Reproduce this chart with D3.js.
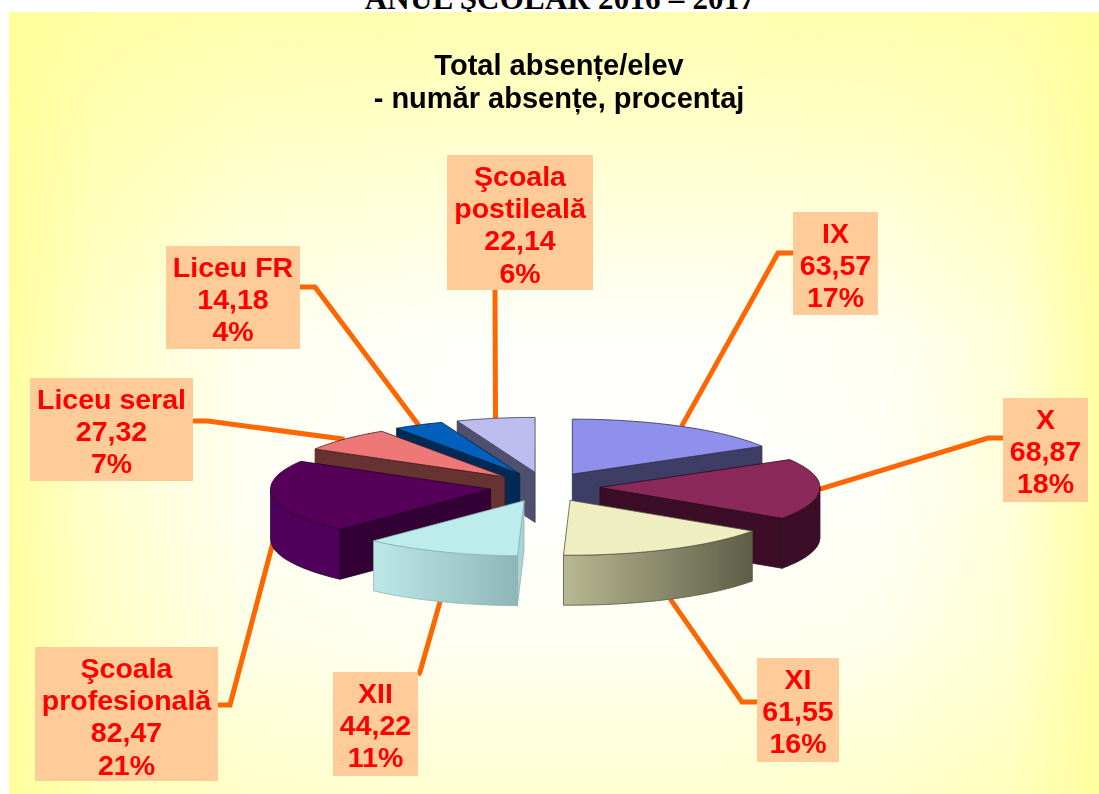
<!DOCTYPE html>
<html><head><meta charset="utf-8">
<script src="https://cdn.jsdelivr.net/npm/d3@7"></script>
<style>html,body{margin:0;padding:0;background:#fff;overflow:hidden}svg{display:block}</style>
</head><body><svg id="c" width="1099" height="794"></svg>
<script>
// ---- data ----
const categories = ["IX","X","XI","XII","Şcoala profesională","Liceu seral","Liceu FR","Şcoala postileală"];
const values     = [63.57,68.87,61.55,44.22,82.47,27.32,14.18,22.14];
const valueTexts = ["63,57","68,87","61,55","44,22","82,47","27,32","14,18","22,14"];
const percents   = ["17%","18%","16%","11%","21%","7%","4%","6%"];
const labelLines = [["IX"],["X"],["XI"],["XII"],["Şcoala","profesională"],["Liceu seral"],["Liceu FR"],["Şcoala","postileală"]];
const titleLines = ["Total absențe/elev","- număr absențe, procentaj"];
const headerText = "ANUL ŞCOLAR 2016 – 2017";
// ---- styles & layout ----
const topColors   = ["#8f8fec","#8b2c5a","#eeeec0","#bcecec","#56005a","#ee7777","#0060bb","#bcbcee"];
const radialColors= ["#3c3c66","#3a1026","#62624c","#a8d4d4","#320035","#663030","#002a55","#50506e"];
const wallColors  = ["#3c3c66","#3a1026","url(#gXI)","url(#gXII)","#50005a","#663030","#002a55","#50506e"];
const edgeColors  = ["#30304f","#2a0a1c","#55553f","#8fb5b5","#25002a","#4a2020","#001f40","#3c3c55"];
const drawOrder   = [0,7,6,5,4,1,2,3];
const boxes = [[793,212,85,103],[1003,398,85,104],[757,658,82,104],[333,672,85,104],[35,647,183,134],[30,378,163,103],[166,246,134,103],[447,155,146,135]];
const elbows = [[[793,253],[778,253]],[[1003,438],[988,438]],[[757,702],[742,702]],[[418,675],[420,672]],[[218,705],[230,705]],[[193,421],[208,421]],[[300,287],[315,287]],[[495,290],[495,291]]];
const leaderDrop = [0,0,50,50,46,0,0,0];
const cx=545, cy=487, rx=220, ry=55, depth=50, explodeX=.25, explodeY=.27;

const svg = d3.select("#c");
const defs = svg.append("defs");
const grad=(id,vertical,stops)=>{
  const g=defs.append("linearGradient").attr("id",id).attr("gradientUnits","userSpaceOnUse");
  if(vertical) g.attr("x1",0).attr("x2",0).attr("y1",12).attr("y2",794); else g.attr("x1",9).attr("x2",1099).attr("y1",0).attr("y2",0);
  stops.forEach(s=>g.append("stop").attr("offset",s[0]).attr("stop-color","#ffff99").attr("stop-opacity",s[1]));
};
grad("bgH",false,[[0,.93],[.08,.5],[.22,.12],[.4,0],[.65,0],[.8,.08],[.92,.35],[1,.9]]);
grad("bgV",true,[[0,.77],[.14,.54],[.42,.04],[.62,0],[.8,.12],[1,.46]]);
const lin=(id,x1,x2,c1,c2)=>{const g=defs.append("linearGradient").attr("id",id).attr("gradientUnits","userSpaceOnUse").attr("x1",x1).attr("x2",x2).attr("y1",0).attr("y2",0);
  g.append("stop").attr("offset",0).attr("stop-color",c1);g.append("stop").attr("offset",1).attr("stop-color",c2);};
lin("gXI",563,752,"#b8b892","#5e5e48");
lin("gXII",373,518,"#bde8e8","#8fb6b6");
const f=defs.append("filter").attr("id","soft");f.append("feGaussianBlur").attr("stdDeviation",.5);

svg.append("text").attr("x",560).attr("y",9).attr("text-anchor","middle")
  .attr("font-family","'Liberation Serif',serif").attr("font-weight","bold").attr("font-size",31).attr("letter-spacing",.2).attr("fill","#000").text(headerText);
const panel=(fill)=>svg.append("rect").attr("x",9).attr("y",12).attr("width",1090).attr("height",782).attr("fill",fill);
panel("#ffffff");panel("url(#bgH)");panel("url(#bgV)");
const titleG=svg.append("g").attr("filter","url(#soft)");
titleLines.forEach((t,i)=>titleG.append("text").attr("x",559).attr("y",[75,108][i]).attr("text-anchor","middle")
  .attr("font-family","'Liberation Sans',Arial,sans-serif").attr("font-weight","bold").attr("font-size",29).attr("fill","#000").text(t));

// scales
const X=d3.scaleLinear().domain([-1,1]).range([cx-rx,cx+rx]);
const Y=d3.scaleLinear().domain([-1,1]).range([cy-ry,cy+ry]);
const pieData=d3.pie().sort(null).value(d=>d)(values);
const apexOf=d=>{const m=(d.startAngle+d.endAngle)/2;return [Math.sin(m)*explodeX,-Math.cos(m)*explodeY];};
const pt=(d,a,r=1)=>{const ap=apexOf(d);return [X(ap[0]+r*Math.sin(a)),Y(ap[1]-r*Math.cos(a))];};
const down=p=>[p[0],p[1]+depth];
const line=d3.line();
const arcPts=(d,a0,a1)=>{const n=Math.max(2,Math.ceil((a1-a0)/0.02));return d3.range(n+1).map(i=>pt(d,a0+(a1-a0)*i/n));};

// leaders
const leaders=svg.append("g").attr("filter","url(#soft)");
pieData.forEach((d,i)=>{
  const m=(d.startAngle+d.endAngle)/2,p=pt(d,m);
  leaders.append("path").attr("d",line([...elbows[i],[p[0],p[1]+leaderDrop[i]]]))
    .attr("fill","none").attr("stroke","#ff6600").attr("stroke-width",5);
});
// pie
const pieG=svg.append("g").attr("filter","url(#soft)");
drawOrder.forEach(i=>{
  const d=pieData[i],g=pieG.append("g"),a0=d.startAngle,a1=d.endAngle,apex=pt(d,0,0);
  const add=(pts,fill)=>g.append("path").attr("d",line(pts)+"Z").attr("fill",fill).attr("stroke",edgeColors[i]).attr("stroke-width",.8).attr("stroke-linejoin","round");
  if(Math.sin(a0)<-1e-6){const p=pt(d,a0);add([apex,p,down(p),down(apex)],radialColors[i]);}
  if(Math.sin(a1)>1e-6){const p=pt(d,a1);add([apex,p,down(p),down(apex)],radialColors[i]);}
  const w0=Math.max(a0,Math.PI/2),w1=Math.min(a1,Math.PI*1.5);
  if(w1>w0){const top=arcPts(d,w0,w1);add([...top,...top.slice().reverse().map(down)],wallColors[i]);}
  add([apex,...arcPts(d,a0,a1)],topColors[i]);
});
// labels
const labels=svg.append("g").attr("filter","url(#soft)");
pieData.forEach((d,i)=>{
  const [bx,by,bw,bh]=boxes[i];
  labels.append("rect").attr("x",bx).attr("y",by).attr("width",bw).attr("height",bh).attr("fill","#ffcc99");
  const lines=[...labelLines[i],valueTexts[i],percents[i]];
  lines.forEach((t,j)=>labels.append("text").attr("x",bx+bw/2).attr("y",by+31+j*32.2).attr("text-anchor","middle")
    .attr("font-family","'Liberation Sans',Arial,sans-serif").attr("font-weight","bold").attr("font-size",28.5).attr("fill","#ff0000").text(t));
});
</script></body></html>
